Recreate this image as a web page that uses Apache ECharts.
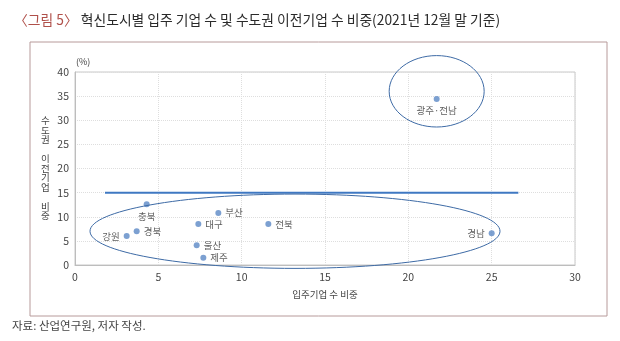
<!DOCTYPE html>
<html><head><meta charset="utf-8">
<script src="https://cdn.jsdelivr.net/npm/echarts@6/dist/echarts.min.js"></script>
<style>html,body{margin:0;padding:0;background:#fff}#c{width:620px;height:341px}</style>
</head><body><div id="c"></div>
<script>
// Data
var regions = ['광주·전남','충북','부산','대구','전북','경북','강원','울산','제주','경남'];
var tenantShare = [21.7, 4.3, 8.6, 7.4, 11.6, 3.7, 3.1, 7.3, 7.7, 25.0];
var capitalShare = [34.4, 12.6, 10.8, 8.5, 8.5, 7.0, 6.0, 4.1, 1.5, 6.6];
var labelPos = ['bottom','bottom','right','right','right','right','left','right','right','left'];
var refLineX = [1.8, 26.6];
var refLineY = 15;
var xTicks = [0, 5, 10, 15, 20, 25, 30];
var yTicks = [0, 5, 10, 15, 20, 25, 30, 35, 40];
// annotation ellipses in data units: [cx, cy, rx, ry]
var ellipses = [[13.2, 7.0, 12.3, 7.7], [21.7, 36.0, 2.85, 7.4]];

var font = '"Noto Sans CJK KR", "Noto Sans", sans-serif';
var chart = echarts.init(document.getElementById('c'));
var pts = regions.map(function(r, i){
  return {name: r, value: [tenantShare[i], capitalShare[i]], label: {position: labelPos[i]}};
});
var option = {
  animation: false,
  textStyle: {fontFamily: font},
  title: {
    text: '{r|〈그림 5〉} 혁신도시별 입주 기업 수 및 수도권 이전기업 수 비중(2021년 12월 말 기준)',
    left: 9, top: 8,
    textStyle: {fontFamily: font, fontSize: 13.8, fontWeight: 'normal', color: '#2a2a2a',
      rich: {r: {fontFamily: font, fontSize: 13.8, color: '#b0504a'}}}
  },
  grid: {left: 75, right: 45, top: 72, bottom: 76, show: true, borderColor: '#c8c8c8', borderWidth: 1},
  xAxis: {
    type: 'value', min: 0, max: 30, interval: 5,
    name: '입주기업 수 비중', nameLocation: 'middle', nameGap: 25,
    nameTextStyle: {fontSize: 9.5, color: '#444', fontFamily: font},
    axisLine: {show: true, lineStyle: {color: '#bdbdbd'}},
    axisTick: {show: false},
    axisLabel: {fontSize: 10.5, color: '#444', margin: 7, formatter: function(v){return xTicks.indexOf(v) >= 0 ? String(v) : '';}},
    splitLine: {show: true, lineStyle: {color: '#dedede', type: 'dotted'}}
  },
  yAxis: {
    type: 'value', min: 0, max: 40, interval: 5,
    axisLine: {show: true, lineStyle: {color: '#bdbdbd'}},
    axisTick: {show: false},
    axisLabel: {fontSize: 10.5, color: '#444', margin: 6, formatter: function(v){return yTicks.indexOf(v) >= 0 ? String(v) : '';}},
    splitLine: {show: true, lineStyle: {color: '#dedede', type: 'dotted'}}
  },
  series: [
    {
      type: 'line', data: [[refLineX[0], refLineY], [refLineX[1], refLineY]],
      symbol: 'none', lineStyle: {color: '#3f78c2', width: 2}, z: 3
    },
    {
      type: 'scatter', data: pts, symbolSize: 6,
      itemStyle: {color: '#5b88c6'},
      label: {show: true, formatter: '{b}', fontSize: 9.5, color: '#333', fontFamily: font, distance: 4},
      z: 4
    }
  ]
};
chart.setOption(option);

var g = [];
ellipses.forEach(function(e){
  var c = chart.convertToPixel({gridIndex: 0}, [e[0], e[1]]);
  var p = chart.convertToPixel({gridIndex: 0}, [e[0] + e[2], e[1] + e[3]]);
  g.push({type: 'ellipse', shape: {cx: c[0], cy: c[1], rx: Math.abs(p[0] - c[0]), ry: Math.abs(c[1] - p[1])},
    style: {fill: 'none', stroke: '#3d6aa5', lineWidth: 1}, z: 5, silent: true});
});
// outer frame
g.push({type: 'rect', shape: {x: 30, y: 42, width: 577, height: 274}, style: {fill: 'none', stroke: '#b79a9a', lineWidth: 1}, z: 0});
// y-axis name, vertical characters
g.push({type: 'text', left: 41, top: 116, style: {text: '수\n도\n권\n \n이\n전\n기\n업\n \n비\n중', fontSize: 9.5, lineHeight: 9.5, fill: '#444', fontFamily: font}});
g.push({type: 'text', left: 76, top: 57, style: {text: '(%)', fontSize: 9, fill: '#444', fontFamily: font}});
g.push({type: 'text', left: 12, top: 320, style: {text: '자료: 산업연구원, 저자 작성.', fontSize: 11.5, fill: '#444', fontFamily: font}});
chart.setOption({graphic: g});
</script>
</body></html>
